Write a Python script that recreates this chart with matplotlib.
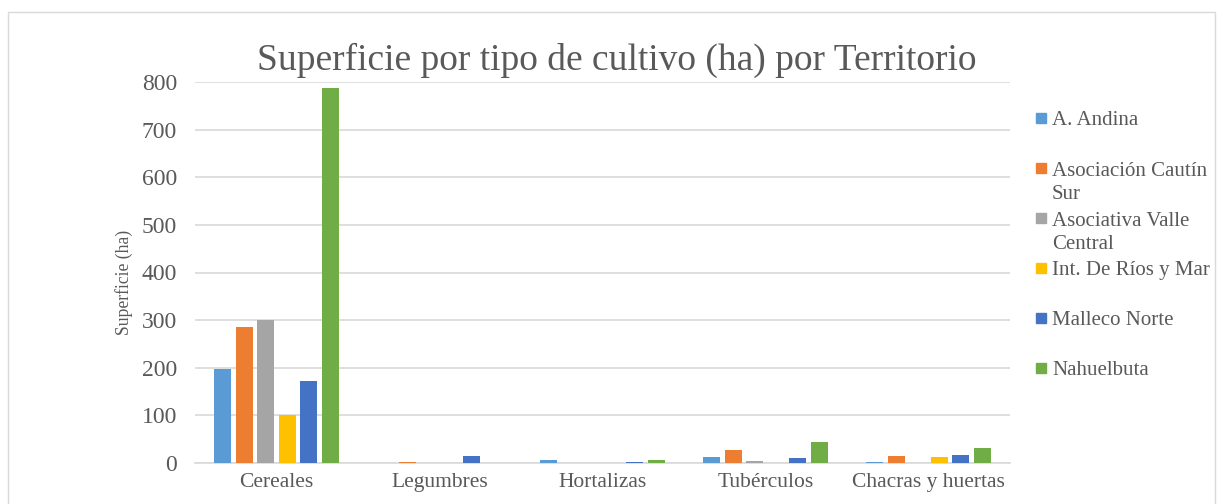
import numpy as np
import matplotlib.pyplot as plt
from matplotlib.patches import Rectangle

categorias = ["Cereales", "Legumbres", "Hortalizas", "Tubérculos", "Chacras y huertas"]
territorios = ["A. Andina", "Asociación Cautín\nSur", "Asociativa Valle\nCentral",
               "Int. De Ríos y Mar", "Malleco Norte", "Nahuelbuta"]
a_andina = [198, 0, 5.6, 13, 3]
cautin_sur = [286, 3, 0.5, 28, 14.7]
valle_central = [300, 0.5, 0, 4, 0]
rios_y_mar = [100, 1, 0, 0.5, 13]
malleco_norte = [173, 15.4, 3, 11, 17.5]
nahuelbuta = [787, 1, 5.6, 45, 31]
series = [a_andina, cautin_sur, valle_central, rios_y_mar, malleco_norte, nahuelbuta]
colores = ["#5b9bd5", "#ed7d31", "#a5a5a5", "#ffc000", "#4472c4", "#70ad47"]

plt.rcParams['font.family'] = ['Liberation Serif', 'DejaVu Serif']
gris = "#595959"
W, H = 1222, 504

def fx(x):
    return x / W

def fy(y):
    return 1 - y / H

fig = plt.figure(figsize=(W / 100, H / 100), dpi=100)
ax = fig.add_axes([fx(195), fy(463), 815 / W, 381 / H])

x = np.arange(len(categorias))
paso = 0.1327
ancho = 0.104
for i, (vals, col) in enumerate(zip(series, colores)):
    ax.bar(x + (i - 2.5) * paso, vals, ancho, color=col, zorder=3)

ax.set_xlim(-0.5, len(categorias) - 0.5)
ax.set_ylim(0, 800)
ax.set_yticks(range(0, 801, 100))
ax.set_xticks(x)
ax.set_xticklabels(categorias, fontsize=15.5, color=gris)
ax.tick_params(axis='y', labelsize=17, labelcolor=gris, length=0, pad=13)
ax.tick_params(axis='x', length=0, pad=7)
ax.grid(axis='y', color="#d9d9d9", lw=1.2, zorder=0)
for s in ["top", "right", "left"]:
    ax.spines[s].set_visible(False)
ax.spines["bottom"].set_color("#d9d9d9")
ax.spines["bottom"].set_linewidth(1.2)
ax.set_ylabel("Superficie (ha)", fontsize=12.7, color=gris)
ax.yaxis.set_label_coords(-0.076, 0.474)

fig.text(fx(617), fy(60), "Superficie por tipo de cultivo (ha) por Territorio",
         ha='center', va='center', fontsize=27, color=gris)

# leyenda a mano: cada entrada en su franja de 50 px, como Excel
for i, (nombre, col) in enumerate(zip(territorios, colores)):
    yc = 118 + 50 * i
    n_saltos = nombre.count('\n')
    fig.patches.append(Rectangle((fx(1036), fy(yc + 5)), 10 / W, 10 / H,
                                 transform=fig.transFigure, color=col))
    # va='baseline' en texto de varias lineas se apoya en la ultima linea
    fig.text(fx(1052), fy(yc + 7 + 24 * n_saltos), nombre, ha='left', va='baseline',
             fontsize=15, color=gris, linespacing=1.3)

fig.patches.append(Rectangle((fx(8), -0.01), 1207 / W, 1 - 12 / H + 0.01,
                             transform=fig.transFigure, fill=False,
                             edgecolor="#d9d9d9", lw=1))

fig.savefig("out.png", dpi=100)
